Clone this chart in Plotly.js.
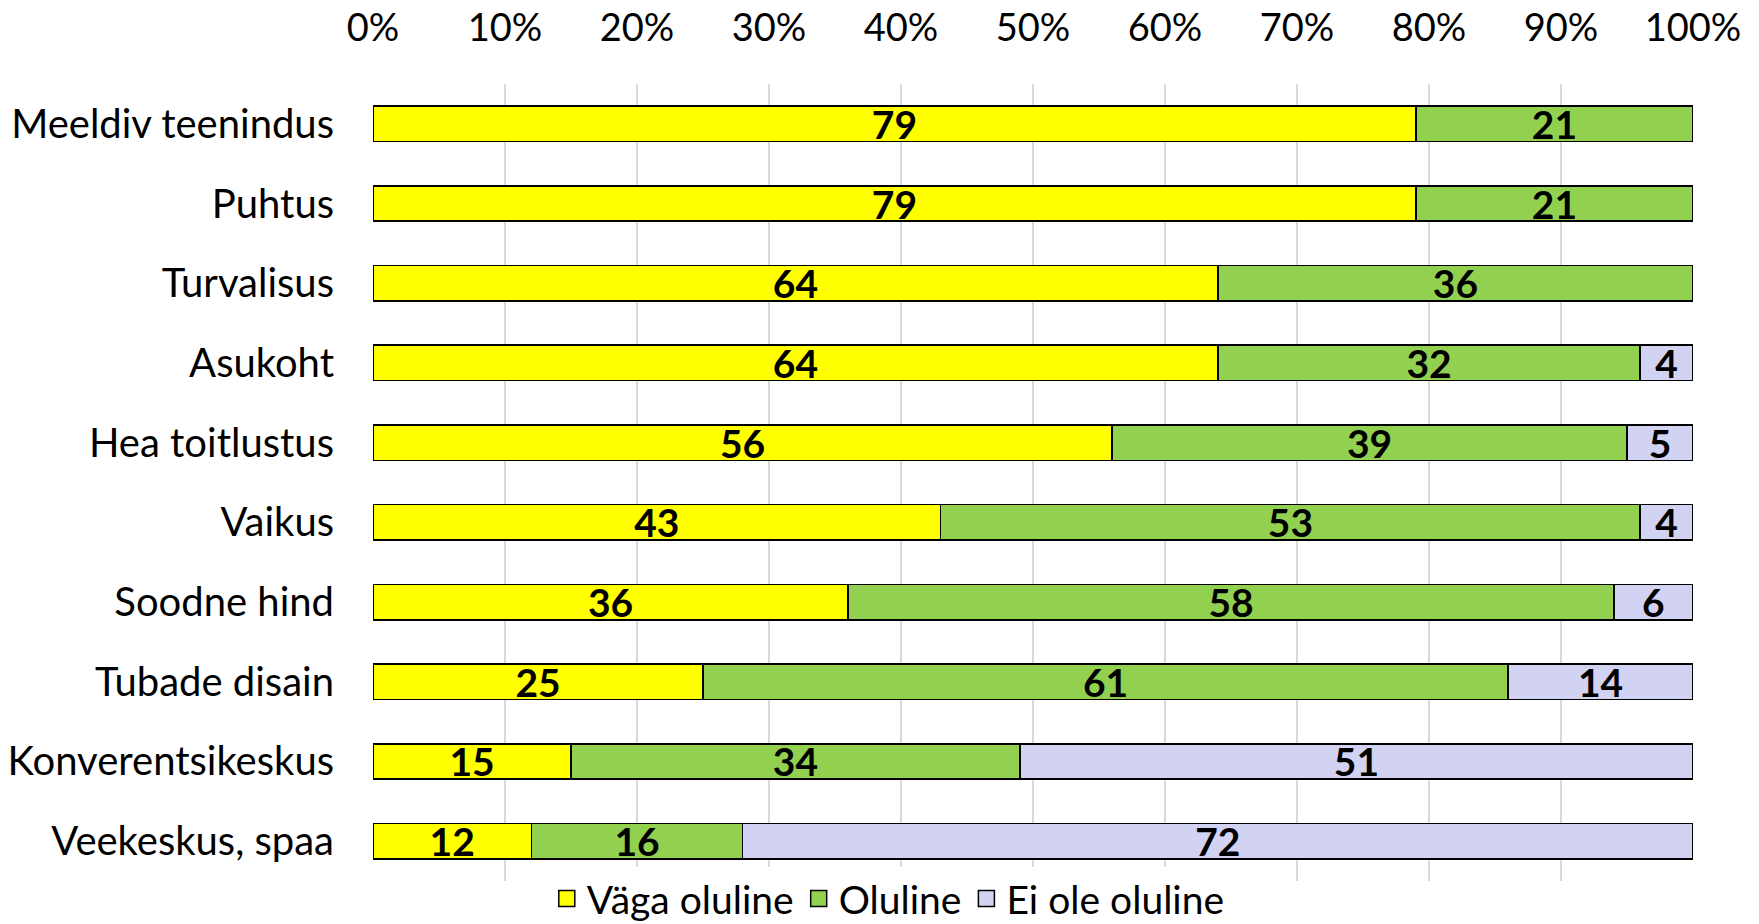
<!DOCTYPE html>
<html>
<head>
<meta charset="utf-8">
<script src="https://cdn.plot.ly/plotly-3.0.1.min.js"></script>
<style>html,body{margin:0;padding:0;background:#fff;}#chart{width:1759px;height:924px;}</style>
</head>
<body>
<div id="chart"></div>
<script>
const categories = ["Meeldiv teenindus","Puhtus","Turvalisus","Asukoht","Hea toitlustus","Vaikus","Soodne hind","Tubade disain","Konverentsikeskus","Veekeskus, spaa"];
const vagaOluline = [79,79,64,64,56,43,36,25,15,12];
const oluline = [21,21,36,32,39,53,58,61,34,16];
const eiOleOluline = [0,0,0,4,5,4,6,14,51,72];
const seriesNames = ["Väga oluline","Oluline","Ei ole oluline"];
const xTickVals = [0,10,20,30,40,50,60,70,80,90,100];
const xTickText = ["0%","10%","20%","30%","40%","50%","60%","70%","80%","90%","100%"];

const FONT = "Lato, 'Open Sans', sans-serif";
const colors = ["#FFFF00","#92D050","#D2D2F3"];
const series = [vagaOluline, oluline, eiOleOluline];

const traces = series.map((vals, i) => ({
  type: 'bar',
  orientation: 'h',
  name: seriesNames[i],
  showlegend: false,
  y: categories,
  x: vals.map(v => v === 0 ? null : v),
  text: vals.map(v => v === 0 ? '' : String(v)),
  textposition: 'inside',
  insidetextanchor: 'middle',
  constraintext: 'none',
  textangle: 0,
  insidetextfont: {family: FONT, size: 39, color: '#000', weight: 'bold'},
  marker: {color: colors[i], line: {color: '#000', width: 1.6}},
  hoverinfo: 'skip',
  cliponaxis: false
}));

// legend-only entries (square swatches)
series.forEach((vals, i) => {
  traces.push({
    type: 'scatter',
    mode: 'markers',
    name: seriesNames[i],
    x: [null],
    y: [null],
    showlegend: true,
    marker: {symbol: 'square', size: 22, color: colors[i], line: {color: '#000', width: 1.5}},
    hoverinfo: 'skip'
  });
});

const layout = {
  width: 1759,
  height: 924,
  barmode: 'stack',
  bargap: 0.555,
  paper_bgcolor: '#fff',
  plot_bgcolor: '#fff',
  margin: {l: 373, r: 66, t: 84, b: 43, pad: 0, autoexpand: false},
  font: {family: FONT, size: 38, color: '#000'},
  showlegend: true,
  xaxis: {
    side: 'top',
    range: [0, 100],
    tickvals: xTickVals,
    ticktext: xTickText,
    showgrid: true,
    gridcolor: '#D9D9D9',
    gridwidth: 1.5,
    zeroline: false,
    showline: false,
    ticks: '',
    ticklabelstandoff: 34,
    tickfont: {family: FONT, size: 38, color: '#000'},
    fixedrange: true
  },
  yaxis: {
    type: 'category',
    autorange: 'reversed',
    showgrid: false,
    zeroline: false,
    showline: false,
    ticks: '',
    ticklabelstandoff: 38,
    tickfont: {family: FONT, size: 40, color: '#000'},
    fixedrange: true
  },
  legend: {
    orientation: 'h',
    xref: 'container',
    yref: 'paper',
    x: 0.505,
    xanchor: 'center',
    y: -0.022,
    yanchor: 'middle',
    itemsizing: 'trace',
    itemwidth: 30,
    font: {family: FONT, size: 39, color: '#000'},
    traceorder: 'normal',
    itemclick: false,
    itemdoubleclick: false
  }
};

Plotly.newPlot('chart', traces, layout, {displayModeBar: false, staticPlot: true});
</script>
</body>
</html>
